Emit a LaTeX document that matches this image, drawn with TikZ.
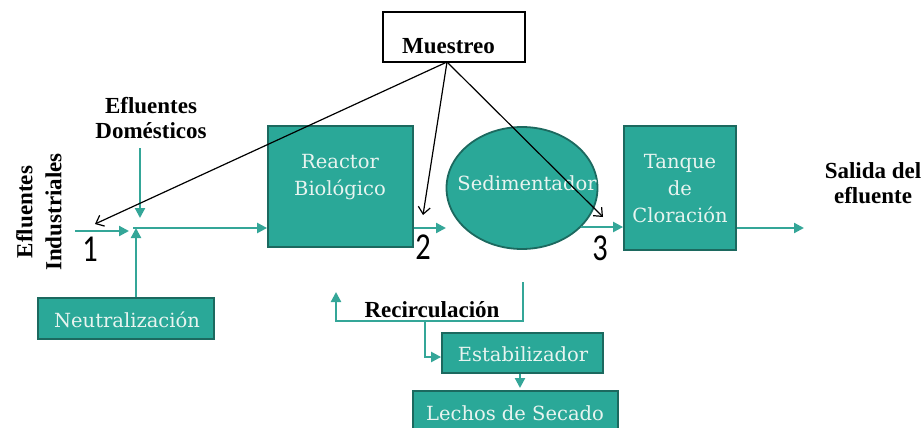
\documentclass[tikz,border=0pt]{standalone}
\usepackage{fontspec}
\setmainfont{DejaVu Serif}
\newfontfamily\labfont{Liberation Serif}
\newfontfamily\numfont{Carlito}
\usetikzlibrary{arrows.meta,shapes.geometric}
\definecolor{tealfill}{RGB}{42,168,152}
\definecolor{tealedge}{RGB}{28,105,95}
\definecolor{tealline}{RGB}{52,166,152}
\definecolor{boxtext}{RGB}{232,244,240}
\begin{document}
\begin{tikzpicture}[x=1pt,y=-1pt,
  box/.style={draw=tealedge,line width=1.8pt,fill=tealfill,inner sep=0pt},
  boxtxt/.style={text=boxtext,font=\fontsize{19.5}{27}\selectfont,align=center,inner sep=0pt},
  flow/.style={draw=tealline,line width=2.2pt,-{Triangle[length=10pt,width=10pt]}},
  sample/.style={draw=black,line width=1.2pt,-{Straight Barb[length=7pt,width=12pt]}},
  lab/.style={font=\labfont\bfseries\fontsize{23}{24.5}\selectfont,align=center,text=black,inner sep=0pt},
  num/.style={font=\numfont\fontsize{38}{38}\selectfont,inner sep=0pt}
]
\useasboundingbox (0,0) rectangle (923,428);
\clip (0,0) rectangle (923,428);

% boxes
\node[box,minimum width=145pt,minimum height=121pt] (reactor) at (340.5,186.5) {};
\node[boxtxt] (reactortxt) at (340,177) {Reactor\\Biológico};
\node[box,ellipse,minimum width=151pt,minimum height=122pt] (sed) at (522,188) {};
\node[boxtxt] (sedtxt) at (527,183) {Sedimentador};
\node[box,minimum width=112pt,minimum height=124pt] (tanque) at (680,188) {};
\node[boxtxt,text width=112pt] (tanquetxt) at (680,189) {Tanque\\de\\Cloración};
\node[box,minimum width=176pt,minimum height=41pt] (neutral) at (126,318.5) {};
\node[boxtxt] (neutraltxt) at (127,320) {Neutralización};
\node[box,minimum width=161pt,minimum height=40pt] (estab) at (522.5,353) {};
\node[boxtxt] (estabtxt) at (523,354) {Estabilizador};
\node[box,minimum width=205pt,minimum height=42pt] (lechos) at (515.5,412) {};
\node[boxtxt] (lechostxt) at (515,413) {Lechos de Secado};

% Muestreo
\node[draw=black,line width=1.2pt,minimum width=142pt,minimum height=50pt,inner sep=0pt] (muestreo) at (454,37) {};
\node[lab] (mtxt) at (448.5,46) {Muestreo};

% labels
\node[lab] (efdom) at (151,118) {Efluentes\\Domésticos};
\node[lab,font=\labfont\bfseries\fontsize{23}{29}\selectfont,rotate=90] (efind) at (39,212) {Efluentes\\Industriales};
\node[lab] (salida) at (873,183) {Salida del\\efluente};
\node[lab] (recirc) at (432,310) {Recirculación};
\node[num] (n1) at (90,249) {\scalebox{0.8}[1]{1}};
\node[num] (n2) at (423,247) {\scalebox{0.8}[1]{2}};
\node[num] (n3) at (600,248) {\scalebox{0.8}[1]{3}};

% flow coordinates
\coordinate (inStart) at (75,231);
\coordinate (inEnd) at (129,231);
\coordinate (domStart) at (140,148);
\coordinate (domEnd) at (140,218);
\coordinate (junc) at (133,228);
\coordinate (nTip) at (136,228);
\coordinate (r2) at (446,228);
\coordinate (sedOut) at (581,227);
\coordinate (outEnd) at (804,228);
\coordinate (rc1) at (523,282);
\coordinate (rc2) at (523,321);
\coordinate (rc3) at (336,321);
\coordinate (rc4) at (336,292);
\coordinate (br1) at (425,321);
\coordinate (br2) at (425,357);
\coordinate (lt) at (520,388);

\draw[flow] (inStart) -- (inEnd);
\draw[flow] (domStart) -- (domEnd);
\draw[flow] (neutral.north -| nTip) -- (nTip);
\draw[flow] (junc) -- (reactor.west |- junc);
\draw[flow] (reactor.east |- r2) -- (r2);
\draw[flow] (sedOut) -- (tanque.west |- sedOut);
\draw[flow] (tanque.east |- outEnd) -- (outEnd);
\draw[flow] (rc1) -- (rc2) -- (rc3) -- (rc4);
\draw[flow] (br1) -- (br2) -- (estab.west |- br2);
\draw[flow] (estab.south -| lt) -- (lt);

% sampling arrows
\coordinate (ms) at (447,62);
\coordinate (s1) at (95,224);
\coordinate (s2) at (423,215);
\coordinate (s3) at (603,217);
\draw[sample] (ms) -- (s1);
\draw[sample] (ms) -- (s2);
\draw[sample] (ms) -- (s3);
\end{tikzpicture}
\end{document}
